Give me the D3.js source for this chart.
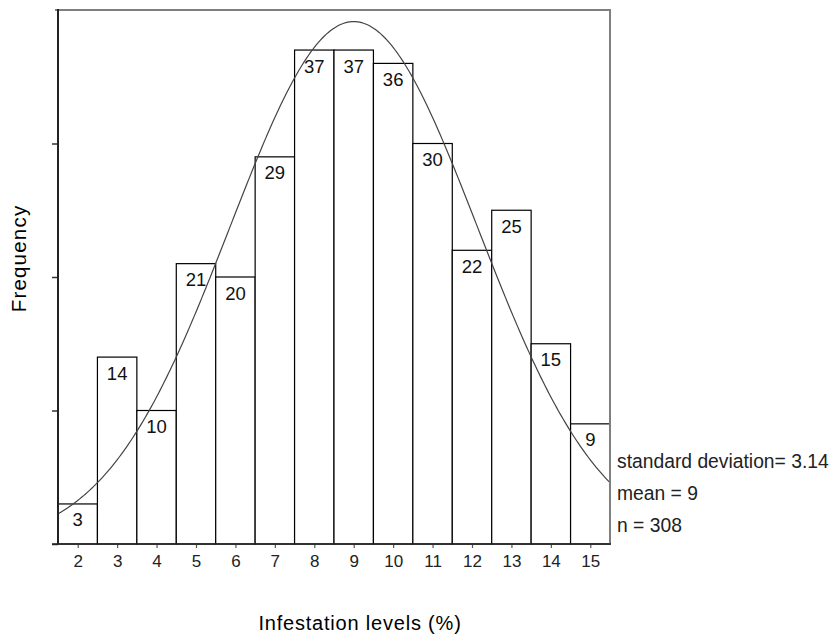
<!DOCTYPE html>
<html>
<head>
<meta charset="utf-8">
<script src="https://cdn.jsdelivr.net/npm/d3@7"></script>
<style>
  html, body { margin: 0; padding: 0; background: #fff; }
  svg { display: block; font-family: Arial, "Liberation Sans", sans-serif; }
</style>
</head>
<body>
<svg id="chart" width="832" height="639"></svg>
<script>
// Histogram of infestation levels with fitted normal curve
const levels = [2, 3, 4, 5, 6, 7, 8, 9, 10, 11, 12, 13, 14, 15];
const counts = [3, 14, 10, 21, 20, 29, 37, 37, 36, 30, 22, 25, 15, 9];
const yTicks = [0, 10, 20, 30];
const stdDev = 3.14;
const mean = 9;
const nObs = 308;
const statLines = ["standard deviation= 3.14", "mean = 9", "n = 308"];

const svg = d3.select("#chart");
const plotL = 58, plotR = 610, plotT = 10, plotB = 544;

const x = d3.scaleLinear().domain([1.5, 15.5]).range([plotL, plotR]);
const y = d3.scaleLinear().domain([0, 40]).range([plotB, plotT]);

// bars
const bw = x(1) - x(0);
svg.append("g").selectAll("rect")
  .data(levels)
  .join("rect")
  .attr("x", d => x(d - 0.5))
  .attr("y", (d, i) => y(counts[i]))
  .attr("width", bw)
  .attr("height", (d, i) => y(0) - y(counts[i]))
  .attr("fill", "#fff")
  .attr("stroke", "#000")
  .attr("stroke-width", 1.2);

// normal curve scaled to counts (bin width 1)
const dens = v => nObs / (stdDev * Math.sqrt(2 * Math.PI)) *
  Math.exp(-0.5 * Math.pow((v - mean) / stdDev, 2));
const xs = d3.range(1.5, 15.5001, 0.05);
svg.append("path")
  .datum(xs)
  .attr("fill", "none")
  .attr("stroke", "#444")
  .attr("stroke-width", 1.2)
  .attr("d", d3.line().x(v => x(v)).y(v => y(dens(v))));

// bar value labels
svg.append("g").selectAll("text")
  .data(levels)
  .join("text")
  .attr("x", d => x(d))
  .attr("y", (d, i) => y(counts[i]) + 22.5)
  .attr("text-anchor", "middle")
  .attr("font-size", 18.5)
  .attr("fill", "#111")
  .text((d, i) => counts[i]);

// frame: top and right
svg.append("line").attr("x1", 55).attr("x2", plotR + 1).attr("y1", plotT).attr("y2", plotT)
  .attr("stroke", "#7f7f7f").attr("stroke-width", 2);
svg.append("line").attr("x1", plotR).attr("x2", plotR).attr("y1", plotT).attr("y2", plotB)
  .attr("stroke", "#7f7f7f").attr("stroke-width", 2);

// y axis (ticks only)
const yAxis = svg.append("g")
  .attr("transform", `translate(${plotL},0)`)
  .call(d3.axisLeft(y).tickValues(yTicks).tickSize(6).tickFormat(""));
yAxis.select(".domain").remove();
yAxis.selectAll(".tick line").attr("stroke", "#333").attr("stroke-width", 1.5);
svg.append("line").attr("x1", plotL).attr("x2", plotL).attr("y1", plotT - 1).attr("y2", plotB)
  .attr("stroke", "#222").attr("stroke-width", 2);

// x axis
const xAxis = svg.append("g")
  .attr("transform", `translate(0,${plotB})`)
  .call(d3.axisBottom(x).tickValues(levels).tickSize(4).tickPadding(7).tickFormat(d3.format("d")));
xAxis.select(".domain").remove();
xAxis.selectAll(".tick line").attr("stroke", "#555").attr("stroke-width", 1.2);
xAxis.selectAll(".tick text").attr("font-size", 17).attr("fill", "#222")
  .attr("font-family", "Arial, 'Liberation Sans', sans-serif");
svg.append("line").attr("x1", 52).attr("x2", plotR + 1).attr("y1", plotB).attr("y2", plotB)
  .attr("stroke", "#222").attr("stroke-width", 1.6);

// statistics
svg.append("g").selectAll("text")
  .data(statLines)
  .join("text")
  .attr("x", 617)
  .attr("y", (d, i) => 467.5 + i * 32.2)
  .attr("font-size", 19.3)
  .attr("fill", "#222")
  .text(d => d);

// axis titles
svg.append("text")
  .attr("x", 360).attr("y", 630)
  .attr("text-anchor", "middle")
  .attr("font-size", 20)
  .attr("letter-spacing", 0.8)
  .attr("fill", "#000")
  .text("Infestation levels (%)");

svg.append("text")
  .attr("transform", "translate(26,258.5) rotate(-90)")
  .attr("text-anchor", "middle")
  .attr("font-size", 20.5)
  .attr("letter-spacing", 1.2)
  .attr("fill", "#000")
  .text("Frequency");
</script>
</body>
</html>
